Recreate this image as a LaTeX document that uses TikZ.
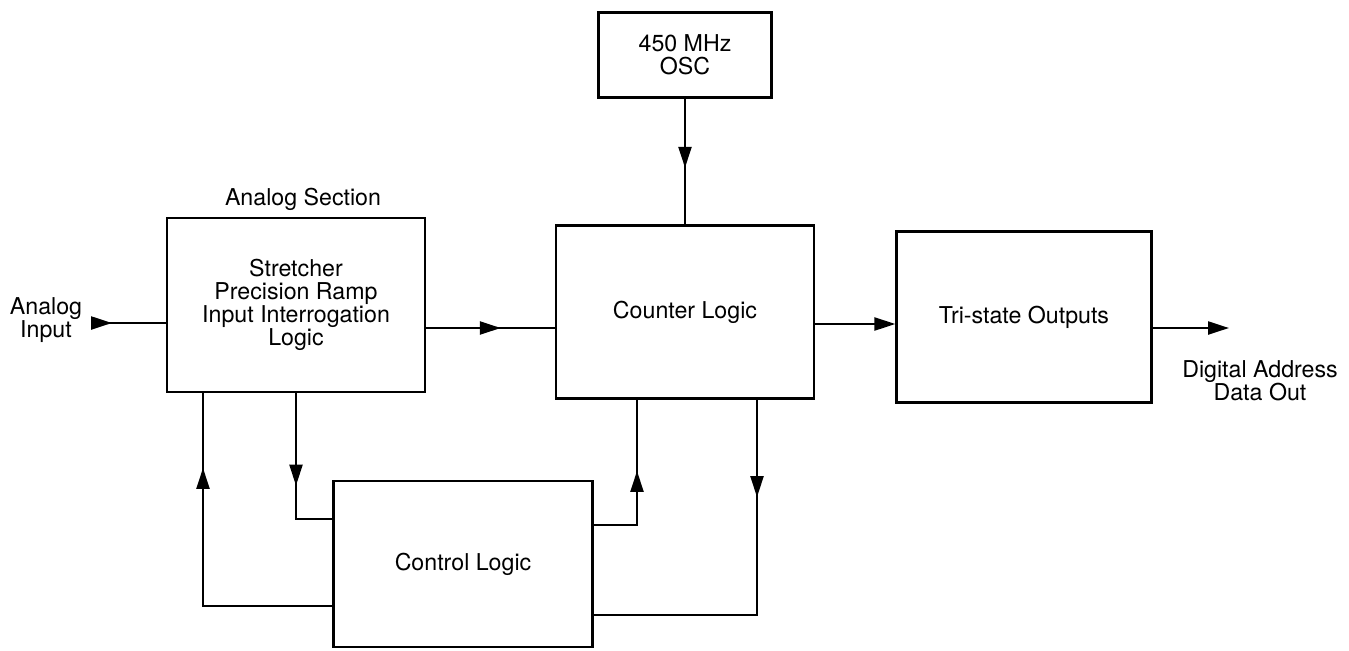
\documentclass[tikz,border=0pt]{standalone}
\usepackage{fontspec}
\setmainfont{TeX Gyre Heros}
\usepackage{tikz}
\usetikzlibrary{arrows.meta,positioning,calc,decorations.markings}

\begin{document}
\begin{tikzpicture}[x=0.02cm,y=-0.02cm,>={Triangle[length=4.2mm,width=2.6mm]},font=\fontsize{13.2}{13.1}\selectfont]
\tikzset{blk/.style={draw,line width=1.3pt,align=center,inner sep=2pt},
  ln/.style={line width=1.3pt},arr/.style={ln,->},
  marr/.style={ln,postaction={decorate},decoration={markings,mark=at position #1 with {\arrow{>}}}}}
\useasboundingbox (0,0) rectangle (1349,650);
\node[blk,minimum width=3.46cm,minimum height=1.7cm] (osc) at (685,55) {450 MHz\\OSC};
\node[blk,minimum width=5.16cm,minimum height=3.48cm] (ana) at (296,305) {Stretcher\\Precision Ramp\\Input Interrogation\\Logic};
\node[blk,minimum width=5.16cm,minimum height=3.46cm] (cnt) at (685,312) {Counter Logic};
\node[blk,minimum width=5.1cm,minimum height=3.42cm] (tri) at (1024,317) {Tri-state Outputs};
\node[blk,minimum width=5.18cm,minimum height=3.32cm] (ctl) at (463,564) {Control Logic};
\node (sec) at (303,199) {Analog Section};
\node[align=center] (inp) at (46,320) {Analog\\Input};
\node[align=center] (dout) at (1260,381) {Digital Address\\Data Out};
\coordinate (in) at (92,323);
\coordinate (out) at (1229,328);
% forward path
\draw[marr=0.4cm] (in) -- (ana.west |- in);
\draw[marr=0.58] (ana.east |- 0,328) -- (cnt.west |- 0,328);
\draw[marr=0.55] (osc.south) -- (cnt.north);
\draw[arr] (cnt.east |- 0,324) -- (tri.west |- 0,324);
\draw[arr] (tri.east |- out) -- (out);
% control loops
\draw[marr=1.85cm] (ana.south -| 296,0) -- (296,519) -- (ctl.west |- 0,519);
\draw[marr=5.35cm] (ctl.west |- 0,606) -- (203,606) -- (ana.south -| 203,0);
\draw[marr=1.95cm] (ctl.east |- 0,525) -- (637,525) -- (cnt.south -| 637,0);
\draw[marr=1.95cm] (cnt.south -| 757,0) -- (757,615) -- (ctl.east |- 0,615);
\end{tikzpicture}
\end{document}
